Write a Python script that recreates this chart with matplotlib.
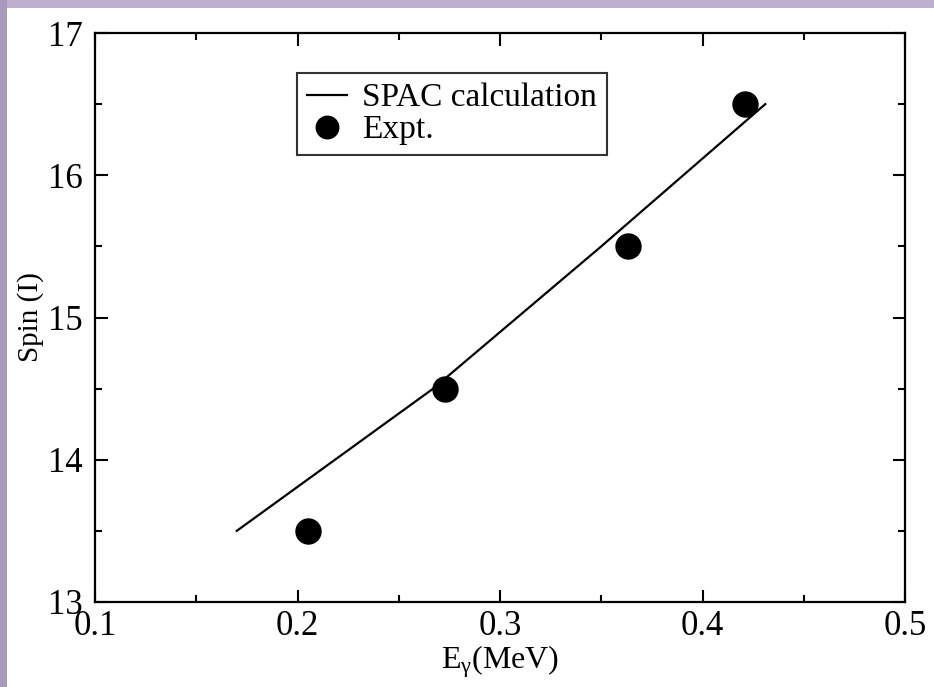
import matplotlib
matplotlib.use("Agg")
import matplotlib.pyplot as plt
from matplotlib.patches import Rectangle
from matplotlib.ticker import MultipleLocator

plt.rcParams['font.family'] = ['Liberation Serif', 'DejaVu Serif']
plt.rcParams['mathtext.fontset'] = 'custom'
plt.rcParams['mathtext.rm'] = 'Liberation Serif'
plt.rcParams['mathtext.it'] = 'Liberation Serif'

# data
calc_E = [0.170, 0.267, 0.350, 0.431]
calc_I = [13.5, 14.5, 15.5, 16.5]
expt_E = [0.205, 0.273, 0.363, 0.421]
expt_I = [13.5, 14.5, 15.5, 16.5]
xticks = [0.1, 0.2, 0.3, 0.4, 0.5]
yticks = [13, 14, 15, 16, 17]

W, H = 934, 687
fig = plt.figure(figsize=(W / 100, H / 100), dpi=100)
fig.patch.set_facecolor('white')
# decorative lavender border strips
fig.patches.append(Rectangle((0, 1 - 8 / H), 1, 8 / H, transform=fig.transFigure,
                             facecolor='#bdb0cf', edgecolor='none', zorder=0))
fig.patches.append(Rectangle((0, 0), 7 / W, 1, transform=fig.transFigure,
                             facecolor='#a898bc', edgecolor='none', zorder=0))

ax = fig.add_axes([95 / W, (H - 602) / H, 810 / W, 569 / H])
ax.plot(calc_E, calc_I, color='black', lw=1.6, label='SPAC calculation')
ax.plot(expt_E, expt_I, 'o', color='black', ms=18, label='Expt.')

ax.set_xlim(0.1, 0.5)
ax.set_ylim(13, 17)
ax.set_xticks(xticks)
ax.set_yticks(yticks)
ax.set_xticklabels([f'{v:.1f}' for v in xticks])
ax.set_yticklabels([str(v) for v in yticks])
ax.xaxis.set_minor_locator(MultipleLocator(0.05))
ax.yaxis.set_minor_locator(MultipleLocator(0.5))
ax.tick_params(which='both', direction='in', top=True, right=True, width=1.5)
ax.tick_params(which='major', length=9, labelsize=25)
ax.tick_params(axis='y', which='major', pad=9)
ax.tick_params(axis='x', which='major', pad=6)
ax.tick_params(which='minor', length=5)
for s in ax.spines.values():
    s.set_linewidth(1.6)

ax.set_xlabel(r'E$_{\gamma}$(MeV)', fontsize=23, labelpad=0)
ax.set_ylabel('Spin (I)', fontsize=21, labelpad=3)

leg = ax.legend(loc='upper left', bbox_to_anchor=(0.249, 0.930), borderaxespad=0,
                fontsize=24, frameon=True, fancybox=False, edgecolor='black',
                handlelength=1.2, handletextpad=0.45, markerscale=0.9,
                borderpad=0.3, labelspacing=0.05)
leg.get_frame().set_linewidth(1.5)

fig.savefig('out.png', dpi=100)
